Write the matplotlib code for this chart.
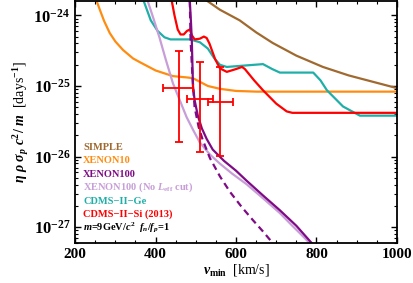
import matplotlib
matplotlib.use("Agg")
import matplotlib.pyplot as plt
import numpy as np
from matplotlib.ticker import FixedLocator, NullFormatter, LogLocator

plt.rcParams['font.family'] = 'Liberation Serif'
plt.rcParams['font.weight'] = 'bold'
plt.rcParams['mathtext.fontset'] = 'custom'
plt.rcParams['mathtext.rm'] = 'Liberation Serif:bold'
plt.rcParams['mathtext.bf'] = 'Liberation Serif:bold'
plt.rcParams['mathtext.it'] = 'Liberation Serif:italic:bold'

# curves: v_min [km/s] and log10 of eta*rho*sigma*c^2/m [days^-1]
simple_v = [527, 560, 609, 650, 691, 750, 816, 880, 940, 1000]
simple_y = [-23.79, -23.92, -24.07, -24.24, -24.39, -24.57, -24.73, -24.85, -24.94, -25.03]

xe10_v = [253, 262, 272, 286, 300, 319, 344, 360, 400, 443, 480, 493, 510, 530, 560, 600, 652, 800, 1000]
xe10_y = [-23.79, -23.93, -24.08, -24.25, -24.37, -24.49, -24.61, -24.66, -24.78, -24.86, -24.88, -24.89, -24.94, -25.0, -25.04, -25.07, -25.08, -25.08, -25.08]

xe100_v = [485, 488, 490, 493, 497, 505, 515, 527, 542, 570, 600, 626, 667, 709, 750, 789]
xe100_y = [-23.79, -24.1, -24.35, -25.0, -25.2, -25.42, -25.6, -25.75, -25.9, -26.06, -26.2, -26.34, -26.55, -26.76, -26.98, -27.23]

xe100d_v = [485, 487, 492, 497, 507, 517, 535, 560, 585, 615, 642, 667, 692]
xe100d_y = [-23.79, -24.35, -24.9, -25.3, -25.58, -25.76, -26.02, -26.28, -26.5, -26.72, -26.9, -27.06, -27.23]

xe100nl_v = [380, 395, 410, 425, 443, 460, 477, 494, 510, 535, 560, 590, 626, 667, 709, 740, 765, 784]
xe100nl_y = [-23.79, -24.05, -24.32, -24.62, -24.96, -25.2, -25.44, -25.63, -25.80, -25.97, -26.1, -26.24, -26.39, -26.59, -26.8, -26.98, -27.12, -27.23]

ge_v = [370, 388, 405, 422, 437, 485, 510, 530, 545, 560, 577, 667, 690, 709, 792, 810, 826, 866, 908, 1000]
ge_y = [-23.79, -24.07, -24.22, -24.31, -24.34, -24.34, -24.38, -24.47, -24.6, -24.70, -24.73, -24.69, -24.76, -24.81, -24.81, -24.92, -25.06, -25.29, -25.42, -25.42]

si_v = [440, 447, 455, 462, 470, 478, 485, 490, 497, 510, 520, 527, 534, 548, 560, 577, 600, 615, 622, 645, 667, 700, 726, 740, 1000]
si_y = [-23.79, -24.0, -24.2, -24.27, -24.27, -24.22, -24.2, -24.28, -24.34, -24.33, -24.3, -24.32, -24.4, -24.62, -24.75, -24.80, -24.76, -24.73, -24.76, -24.92, -25.06, -25.25, -25.36, -25.38, -25.38]

# CDMS-II-Si (2013) data points
pt_v = [457, 511, 561]
pt_vlo = [418, 477, 530]
pt_vhi = [492, 542, 592]
pt_y = [-25.03, -25.18, -25.23]
pt_ylo = [-25.79, -25.94, -25.99]
pt_yhi = [-24.51, -24.66, -24.73]

c_simple = '#A0692F'
c_xe10 = '#FF8C10'
c_xe100 = '#7F0A85'
c_xe100nl = '#C89ED8'
c_ge = '#1FAFA8'
c_si = '#FF0000'

fig = plt.figure(figsize=(4.13, 2.83), dpi=100)
ax = fig.add_axes([0.182, 0.141, 0.779, 0.857])

lw = 1.6
ax.plot(simple_v, 10 ** np.array(simple_y), color=c_simple, lw=lw)
ax.plot(xe10_v, 10 ** np.array(xe10_y), color=c_xe10, lw=lw)
ax.plot(ge_v, 10 ** np.array(ge_y), color=c_ge, lw=lw)
ax.plot(si_v, 10 ** np.array(si_y), color=c_si, lw=lw)
ax.plot(xe100nl_v, 10 ** np.array(xe100nl_y), color=c_xe100nl, lw=lw)
ax.plot(xe100_v, 10 ** np.array(xe100_y), color=c_xe100, lw=lw)
ax.plot(xe100d_v, 10 ** np.array(xe100d_y), color=c_xe100, lw=lw, ls=(0, (3, 2)))

y = 10 ** np.array(pt_y)
yerr = [y - 10 ** np.array(pt_ylo), 10 ** np.array(pt_yhi) - y]
xerr = [np.array(pt_v) - np.array(pt_vlo), np.array(pt_vhi) - np.array(pt_v)]
ax.errorbar(pt_v, y, xerr=xerr, yerr=yerr, fmt='none', ecolor=c_si,
            elinewidth=1.3, capsize=3, capthick=1.3)

ax.set_yscale('log')
ax.set_xlim(200, 1000)
ax.set_ylim(10 ** -27.225, 10 ** -23.79)
ax.set_xticks([200, 400, 600, 800, 1000])
ax.xaxis.set_minor_locator(FixedLocator(np.arange(200, 1001, 50)))
ax.set_yticks([1e-27, 1e-26, 1e-25, 1e-24])
ax.set_yticklabels([r'$\mathbf{10^{-27}}$', r'$\mathbf{10^{-26}}$',
                    r'$\mathbf{10^{-25}}$', r'$\mathbf{10^{-24}}$'])
ax.yaxis.set_minor_locator(LogLocator(base=10, subs=np.arange(2, 10)))
ax.yaxis.set_minor_formatter(NullFormatter())
ax.tick_params(which='both', direction='in', top=True, right=True, labelsize=11)
ax.tick_params(axis='y', which='major', labelsize=12)
ax.tick_params(which='major', length=4, width=1)
ax.tick_params(which='minor', length=2, width=0.8)
for s in ax.spines.values():
    s.set_linewidth(1.3)

ax.set_xlabel(r'$v_{\rm min}$  [km/s]', fontsize=10, labelpad=1)
ax.set_ylabel(r'$\eta\ \rho\ \sigma_p\ c^2/\ m$  [days$^{-1}$]', fontsize=10, labelpad=2)

labels = ['SIMPLE', 'XENON10', 'XENON100', r'XENON100 (No $L_{\rm eff}$ cut)',
          'CDMS\u2212II\u2212Ge', 'CDMS\u2212II\u2212Si (2013)',
          r'$m$=9GeV/$c^2$  $f_n/f_p$=1']
colors = [c_simple, c_xe10, c_xe100, c_xe100nl, c_ge, c_si, 'black']
for i, (t, c) in enumerate(zip(labels, colors)):
    ax.text(0.025, 0.395 - i * 0.0555, t, color=c, fontsize=7.5,
            fontweight='bold', transform=ax.transAxes, va='center', ha='left')

plt.savefig('out.png', dpi=100)
